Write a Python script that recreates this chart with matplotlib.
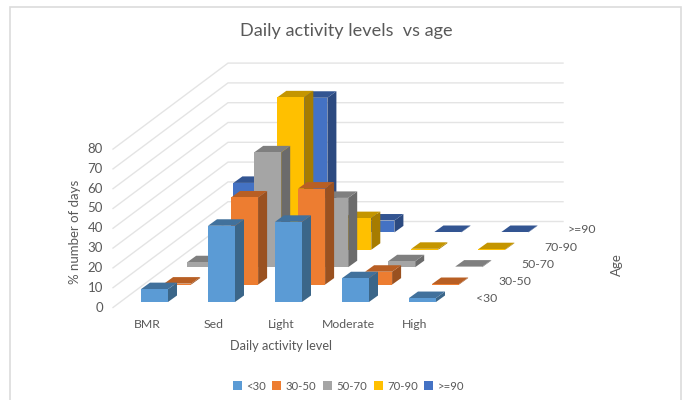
import matplotlib
matplotlib.use('Agg')
import matplotlib.pyplot as plt
from matplotlib.patches import Patch, Polygon

plt.rcParams['font.family'] = ['Lato', 'DejaVu Sans']

categories = ['BMR', 'Sed', 'Light', 'Moderate', 'High']
ages = ['<30', '30-50', '50-70', '70-90', '>=90']
ticks = [0, 10, 20, 30, 40, 50, 60, 70, 80]

under_30 = [6.5, 38.5, 40.5, 12, 2]
age_30_50 = [0.5, 44, 48.5, 6.5, 0.3]
age_50_70 = [2.5, 58, 35, 3, 0.3]
age_70_90 = [8, 77, 16, 0.5, 0.3]
over_90 = [25, 68, 6, 0.2, 0.2]
series = [under_30, age_30_50, age_50_70, age_70_90, over_90]

# front, side, top
shades = [
    ('#5b9bd5', '#3b6689', '#41719c'),
    ('#ed7d31', '#9a5120', '#b85f24'),
    ('#a5a5a5', '#6b6b6b', '#7f7f7f'),
    ('#ffc000', '#a67c00', '#c49500'),
    ('#4472c4', '#2c4a80', '#335592'),
]
legend_colors = [s[0] for s in shades]

# oblique projection of the excel 3d column chart, in pixels
X0, Y0 = 141, 302
STEP_CAT = 67
STEP_SER = (23.1, -17.4)
BAR_W = 27
BAR_D = (9, -6.5)
PER_UNIT = 1.98


def project(cat, ser, value=0):
    x = X0 + cat * STEP_CAT + ser * STEP_SER[0]
    y = Y0 + ser * STEP_SER[1] - value * PER_UNIT
    return x, y


def draw_bar(ax, cat, ser, value):
    front, side, top = shades[ser]
    x, y0 = project(cat, ser)
    _, y1 = project(cat, ser, value)
    dx, dy = BAR_D
    ax.add_patch(Polygon([(x + BAR_W, y0), (x + BAR_W + dx, y0 + dy),
                          (x + BAR_W + dx, y1 + dy), (x + BAR_W, y1)],
                         fc=side, ec='none', zorder=3))
    ax.add_patch(Polygon([(x, y1), (x + dx, y1 + dy),
                          (x + BAR_W + dx, y1 + dy), (x + BAR_W, y1)],
                         fc=top, ec='none', zorder=3))
    ax.add_patch(Polygon([(x, y0), (x + BAR_W, y0), (x + BAR_W, y1), (x, y1)],
                         fc=front, ec='none', zorder=3))


fig = plt.figure(figsize=(6.82, 4), dpi=100)
ax = fig.add_axes([0, 0, 1, 1])
ax.set_xlim(0, 682)
ax.set_ylim(400, 0)
ax.axis('off')

# chart frame, no bottom edge in the screenshot
ax.plot([10, 10, 681, 681], [400, 6.5, 6.5, 400], color='#dcdcdc', lw=1.2,
        solid_joinstyle='miter')

# walls
for t in ticks:
    y = 307.5 - t * PER_UNIT
    ax.plot([113, 228, 563], [y, y - 86, y - 86], color='#e4e4e4', lw=1,
            solid_joinstyle='miter', zorder=1)
    ax.text(103, y, str(t), ha='right', va='center', fontsize=9.5, color='#595959')

for ser in reversed(range(len(series))):
    for cat, value in enumerate(series[ser]):
        draw_bar(ax, cat, ser, value)

for cat, name in enumerate(categories):
    ax.text(147 + cat * STEP_CAT, 325, name, ha='center', va='center',
            fontsize=8.8, color='#595959')

for ser, name in enumerate(ages):
    ax.text(476 + ser * 22.8, 299 + ser * -17.3, name, ha='left', va='center',
            fontsize=8.8, color='#595959')

ax.text(346, 31, 'Daily activity levels  vs age', ha='center', va='center',
        fontsize=13.1, color='#595959')
ax.text(281, 346, 'Daily activity level', ha='center', va='center',
        fontsize=9.2, color='#595959')
ax.text(75, 232, '% number of days', ha='center', va='center', rotation=90,
        fontsize=9.5, color='#595959')
ax.text(617, 265, 'Age', ha='center', va='center', rotation=90,
        fontsize=9.5, color='#595959')

handles = [Patch(fc=c, ec='none') for c in legend_colors]
ax.legend(handles, ages, loc='center', bbox_to_anchor=(348.5 / 682, 1 - 386 / 400),
          ncol=5, frameon=False, fontsize=8.2, labelcolor='#595959',
          handlelength=0.8, handleheight=0.8, handletextpad=0.4,
          columnspacing=0.55, borderpad=0)

fig.savefig('out.png', dpi=100)
